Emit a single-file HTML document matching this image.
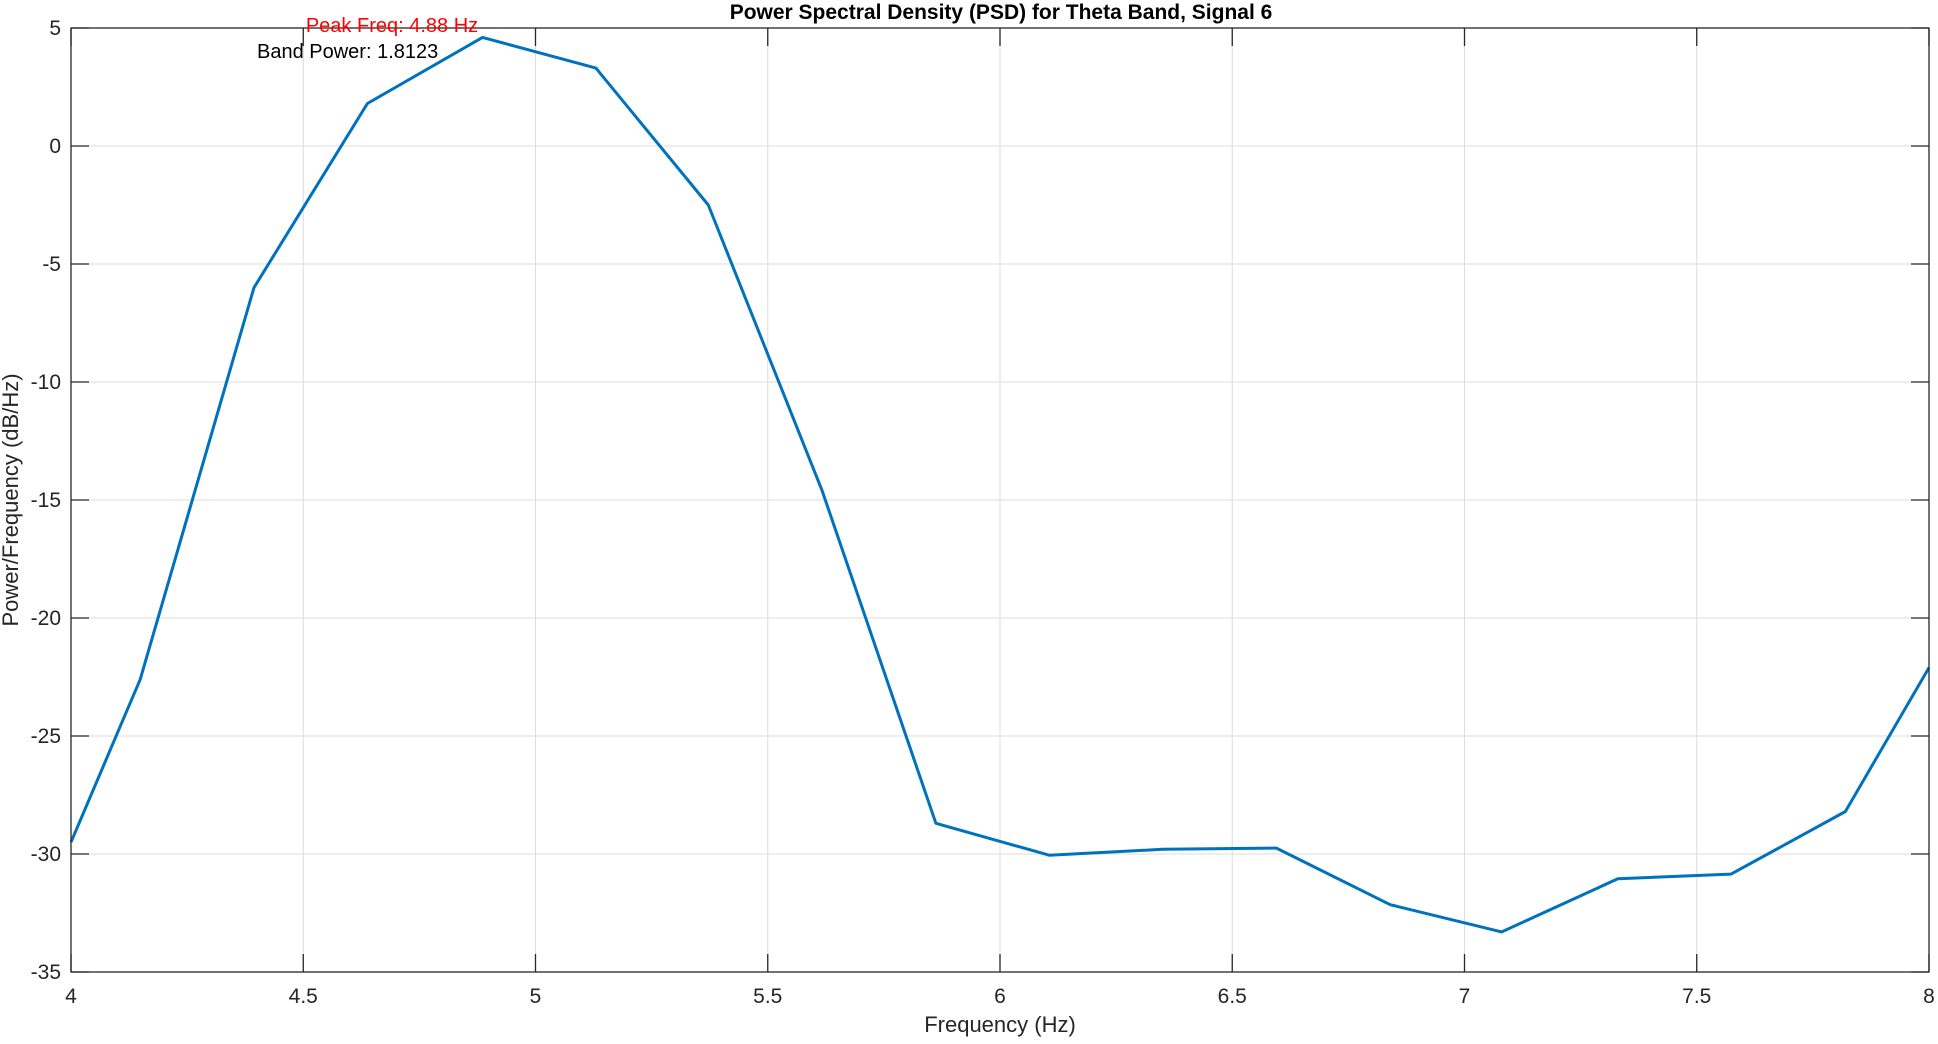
<!DOCTYPE html>
<html><head><meta charset="utf-8"><style>
body{margin:0;background:#fff;}
svg text{font-family:"Liberation Sans",sans-serif;}
</style></head><body>
<svg id="chart" width="1938" height="1039">
<rect x="0" y="0" width="1938" height="1039" fill="#fff"/>
<g id="grid"></g>
<g id="ticks"></g>
<path id="line" fill="none" stroke="#0072BD" stroke-width="3" stroke-linejoin="round"/>
<rect x="71" y="28" width="1858" height="944" fill="none" stroke="#262626" stroke-width="1.3"/>
<text x="1001" y="19" text-anchor="middle" font-size="21" font-weight="bold" fill="#000">Power Spectral Density (PSD) for Theta Band, Signal 6</text>
<text x="1000" y="1032" text-anchor="middle" font-size="22" fill="#262626">Frequency (Hz)</text>
<text transform="translate(18,500) rotate(-90)" text-anchor="middle" font-size="22" fill="#262626">Power/Frequency (dB/Hz)</text>
<text x="392" y="32" text-anchor="middle" font-size="20" fill="#ff0000">Peak Freq: 4.88 Hz</text>
<text x="257" y="58" font-size="20" fill="#000">Band Power: 1.8123</text>
</svg>
<script>
const freqs=[4,4.149,4.394,4.638,4.886,5.13,5.372,5.617,5.862,6.106,6.35,6.595,6.84,7.08,7.33,7.574,7.82,8];
const power=[-29.5,-22.6,-6,1.8,4.6,3.3,-2.5,-14.6,-28.7,-30.05,-29.8,-29.75,-32.15,-33.3,-31.05,-30.85,-28.2,-22.1];
const xTicks=[4,4.5,5,5.5,6,6.5,7,7.5,8];
const yTicks=[5,0,-5,-10,-15,-20,-25,-30,-35];
const L=71,R=1929,T=28,B=972;
const sx=v=>L+(v-4)/4*(R-L);
const sy=v=>T+(5-v)/40*(B-T);
const NS='http://www.w3.org/2000/svg';
const grid=document.getElementById('grid'),ticks=document.getElementById('ticks');
function mk(tag,attrs,parent){const e=document.createElementNS(NS,tag);for(const k in attrs)e.setAttribute(k,attrs[k]);parent.appendChild(e);return e;}
xTicks.forEach(v=>{const x=sx(v);
 const g=mk('line',{x1:x,x2:x,y1:T,y2:B,stroke:'#dcdcdc','stroke-width':1},grid);
 
 
 mk('line',{x1:x,x2:x,y1:B,y2:B-18,stroke:'#262626','stroke-width':1.3},ticks);
 mk('line',{x1:x,x2:x,y1:T,y2:T+18,stroke:'#262626','stroke-width':1.3},ticks);
 const t=mk('text',{x:x,y:B+31,'text-anchor':'middle','font-size':21,fill:'#262626'},ticks);
 t.textContent=String(v);
 
 
});
yTicks.forEach(v=>{const y=sy(v);
 const g=mk('line',{x1:L,x2:R,y1:y,y2:y,stroke:'#dcdcdc','stroke-width':1},grid);
 
 
 mk('line',{x1:L,x2:L+18,y1:y,y2:y,stroke:'#262626','stroke-width':1.3},ticks);
 mk('line',{x1:R,x2:R-18,y1:y,y2:y,stroke:'#262626','stroke-width':1.3},ticks);
 const t=mk('text',{x:L-10,y:y+7,'text-anchor':'end','font-size':21,fill:'#262626'},ticks);
 t.textContent=String(v);
 
 
});
document.getElementById('line').setAttribute('d',freqs.map((f,i)=>(i?'L':'M')+sx(f).toFixed(1)+','+sy(power[i]).toFixed(1)).join(' '));
</script>
</body></html>
